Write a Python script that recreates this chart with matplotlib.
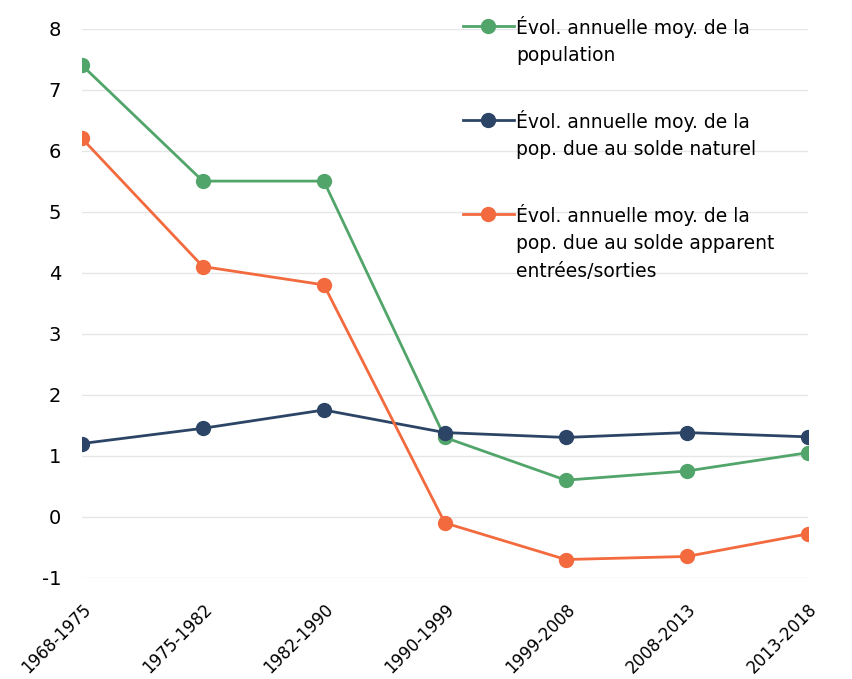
import matplotlib
matplotlib.use("Agg")
import matplotlib.pyplot as plt

periods = ["1968-1975", "1975-1982", "1982-1990", "1990-1999",
           "1999-2008", "2008-2013", "2013-2018"]
pop_total = [7.4, 5.5, 5.5, 1.3, 0.6, 0.75, 1.05]
pop_naturel = [1.2, 1.45, 1.75, 1.38, 1.3, 1.38, 1.31]
pop_migratoire = [6.2, 4.1, 3.8, -0.1, -0.7, -0.65, -0.28]

labels = [
    "Évol. annuelle moy. de la\npopulation",
    "Évol. annuelle moy. de la\npop. due au solde naturel",
    "Évol. annuelle moy. de la\npop. due au solde apparent\nentrées/sorties",
]
colors = ["#52a56a", "#2c4566", "#f26a3d"]

plt.rcParams["font.family"] = ["DejaVu Sans"]
plt.rcParams["axes.unicode_minus"] = False

fig = plt.figure(figsize=(8.53, 6.79), dpi=100)
ax = fig.add_axes([0.096, 0.149, 0.851, 0.809])

x = range(len(periods))
for series, lab, col in zip([pop_total, pop_naturel, pop_migratoire], labels, colors):
    ax.plot(x, series, color=col, lw=2, marker="o", ms=10, label=lab, zorder=3)

ax.set_xlim(0, len(periods) - 1)
ax.set_ylim(-1, 8)
ax.set_yticks(range(-1, 9))
ax.set_xticks(list(x))
ax.set_xticklabels(periods, rotation=45, ha="right", rotation_mode="anchor", fontsize=12)
ax.tick_params(axis="y", labelsize=14, length=0, pad=15)
ax.tick_params(axis="x", length=0, pad=16)
ax.grid(axis="y", color="#e6e6e6", lw=1)
for s in ax.spines.values():
    s.set_visible(False)

leg = ax.legend(loc="upper left", bbox_to_anchor=(0.534, 0.988), bbox_transform=fig.transFigure,
                frameon=False, fontsize=13.5, handlelength=2.7, handleheight=1.9,
                handletextpad=0.15, labelspacing=2.4, borderaxespad=0)
for t in leg.get_texts():
    t.set_linespacing(1.55)
# put each key next to the first line of its label
for col in leg._legend_handle_box.get_children():
    for row in col.get_children():
        row.align = "top"

fig.savefig("out.png", dpi=100)
